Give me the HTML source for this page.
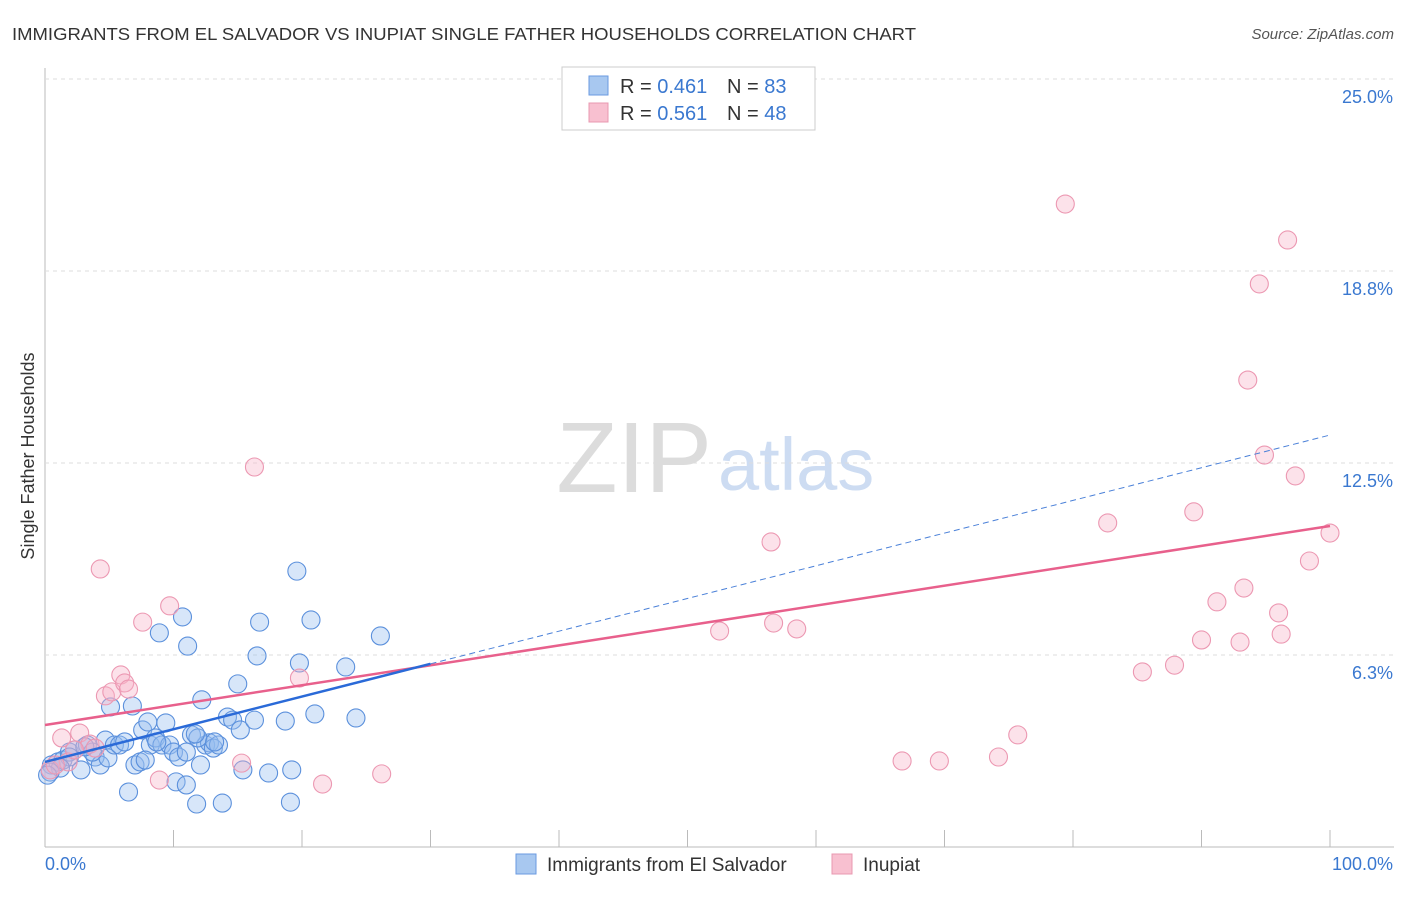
<!DOCTYPE html>
<html><head><meta charset="utf-8"><style>
body{margin:0;background:#fff;font-family:"Liberation Sans",sans-serif;}
svg text{font-family:"Liberation Sans",sans-serif;}
</style></head><body>
<svg id="chart" width="1406" height="892">
<text x="12" y="40" font-size="17.5" fill="#333" textLength="904" lengthAdjust="spacingAndGlyphs">IMMIGRANTS FROM EL SALVADOR VS INUPIAT SINGLE FATHER HOUSEHOLDS CORRELATION CHART</text>
<text x="1394" y="39" font-size="15" fill="#555" font-style="italic" text-anchor="end">Source: ZipAtlas.com</text>
<text x="712" y="492" font-size="100" fill="#dcdcdc" text-anchor="end" font-family="Liberation Serif">ZIP</text>
<text x="718" y="490" font-size="74" fill="#cddcf2">atlas</text>
<text transform="translate(34,456) rotate(-90)" font-size="18" fill="#333" text-anchor="middle">Single Father Households</text>
<g id="grid"></g><g id="marks"></g>
<g>
<rect x="562" y="67" width="253" height="63" fill="#fff" stroke="#ccc"/>
<rect x="589" y="76" width="19" height="19" fill="#a8c8f0" stroke="#6a9ae0"/>
<rect x="589" y="103" width="19" height="19" fill="#f8c0d0" stroke="#e898b0"/>
<text x="620" y="93" font-size="20" fill="#333">R = <tspan fill="#3a78d0">0.461</tspan></text>
<text x="727" y="93" font-size="20" fill="#333">N = <tspan fill="#3a78d0">83</tspan></text>
<text x="620" y="120" font-size="20" fill="#333">R = <tspan fill="#3a78d0">0.561</tspan></text>
<text x="727" y="120" font-size="20" fill="#333">N = <tspan fill="#3a78d0">48</tspan></text>
</g>
<g>
<rect x="516" y="854" width="20" height="20" fill="#a8c8f0" stroke="#6a9ae0"/>
<text x="547" y="871" font-size="19" fill="#333">Immigrants from El Salvador</text>
<rect x="832" y="854" width="20" height="20" fill="#f8c0d0" stroke="#e898b0"/>
<text x="863" y="871" font-size="19" fill="#333">Inupiat</text>
</g>
</svg>
<script>
const yTicks=[6.25,12.5,18.75,25];
const yTickLabels=["6.3%","12.5%","18.8%","25.0%"];
const xTickLabels=["0.0%","100.0%"];
const blueX=[0.5,1.0,1.4,1.9,2.3,2.8,3.3,3.9,4.3,4.7,4.9,5.1,5.4,5.8,6.2,6.5,6.8,7.0,7.4,7.6,8.0,8.2,8.6,8.9,9.1,9.4,9.7,10.0,10.2,10.4,10.7,11.0,11.1,11.4,11.8,12.1,12.2,12.5,12.8,13.1,13.5,13.8,14.2,14.6,15.0,15.2,15.4,16.3,16.5,16.7,17.4,18.7,19.2,19.1,19.6,19.8,20.7,21.0,23.4,24.2,26.1,3.7,3.1,1.9,1.2,0.4,0.2,7.8,8.7,11.0,11.9,13.2,11.7];
const blueY=[2.67,2.77,2.83,3.09,3.16,2.51,3.32,2.93,2.67,3.48,2.90,4.56,3.32,3.32,3.42,1.79,4.59,2.67,2.77,3.81,4.07,3.32,3.55,6.97,3.32,4.04,3.32,3.09,2.12,2.93,7.49,2.02,6.54,3.65,1.40,2.67,4.79,3.32,3.39,3.22,3.32,1.43,4.23,4.13,5.31,3.81,2.51,4.13,6.22,7.32,2.41,4.10,2.51,1.46,8.98,5.99,7.39,4.33,5.86,4.20,6.87,3.09,3.26,2.93,2.57,2.44,2.34,2.83,3.42,3.09,3.55,3.42,3.68];
const pinkX=[1.3,1.8,2.7,3.5,4.3,4.7,5.2,5.9,6.2,6.5,7.6,8.9,9.7,15.3,16.3,19.8,21.6,26.2,52.5,56.5,56.7,58.5,66.7,69.6,74.2,75.7,79.4,82.7,85.4,87.9,89.4,90.0,91.2,93.0,93.3,93.6,94.5,94.9,96.0,96.2,96.7,97.3,98.4,100,0.4,0.8,3.9,2.3];
const pinkY=[3.55,2.77,3.71,3.35,9.05,4.92,5.05,5.60,5.34,5.14,7.32,2.18,7.85,2.73,12.37,5.50,2.05,2.38,7.03,9.93,7.29,7.10,2.80,2.80,2.93,3.65,20.93,10.55,5.70,5.92,10.91,6.74,7.98,6.67,8.43,15.20,18.33,12.76,7.62,6.93,19.76,12.08,9.31,10.22,2.51,2.67,3.22,3.16];
const blueTrend=[2.77,0.1064];
const pinkTrend=[3.97,0.0648];
const X=v=>45+v*12.85, Y=v=>847-v*30.72;
const NS="http://www.w3.org/2000/svg";
const grid=document.getElementById('grid'), marks=document.getElementById('marks');
function mk(tag,attrs,parent){const e=document.createElementNS(NS,tag);for(const k in attrs)e.setAttribute(k,attrs[k]);parent.appendChild(e);return e;}
let e=mk('line',{x1:45,y1:68,x2:45,y2:847,stroke:'#bbb'},grid);


e=mk('line',{x1:45,y1:847,x2:1394,y2:847,stroke:'#bbb'},grid);


for(let i=0;i<=10;i++){e=mk('line',{x1:X(i*10),y1:830,x2:X(i*10),y2:847,stroke:'#bbb'},grid);

}
yTicks.forEach((t,i)=>{e=mk('line',{x1:45,y1:Y(t),x2:1394,y2:Y(t),stroke:'#ddd','stroke-dasharray':'4,4'},grid);


e=mk('text',{x:1393,y:Y(t)+24,'font-size':18,fill:'#3a78d0','text-anchor':'end'},grid);e.textContent=yTickLabels[i];

});
e=mk('text',{x:45,y:870,'font-size':18,fill:'#3a78d0'},grid);e.textContent=xTickLabels[0];


e=mk('text',{x:1393,y:870,'font-size':18,fill:'#3a78d0','text-anchor':'end'},grid);e.textContent=xTickLabels[1];


blueX.forEach((x,i)=>{e=mk('circle',{cx:X(x),cy:Y(blueY[i]),r:9,fill:'rgba(150,190,240,0.38)',stroke:'#5b90dc','stroke-width':1.1},marks);

});
pinkX.forEach((x,i)=>{e=mk('circle',{cx:X(x),cy:Y(pinkY[i]),r:9,fill:'rgba(248,180,200,0.38)',stroke:'#ec98b2','stroke-width':1.1},marks);

});
e=mk('line',{x1:X(30),y1:Y(blueTrend[0]+blueTrend[1]*30),x2:X(100),y2:Y(blueTrend[0]+blueTrend[1]*100),stroke:'#4a80d8','stroke-width':1,'stroke-dasharray':'6,4'},marks);


e=mk('line',{x1:X(0),y1:Y(pinkTrend[0]),x2:X(100),y2:Y(pinkTrend[0]+pinkTrend[1]*100),stroke:'#e8608c','stroke-width':2.5},marks);


e=mk('line',{x1:X(0),y1:Y(blueTrend[0]),x2:X(30),y2:Y(blueTrend[0]+blueTrend[1]*30),stroke:'#2a6ad8','stroke-width':2.5},marks);


</script>
</body></html>
